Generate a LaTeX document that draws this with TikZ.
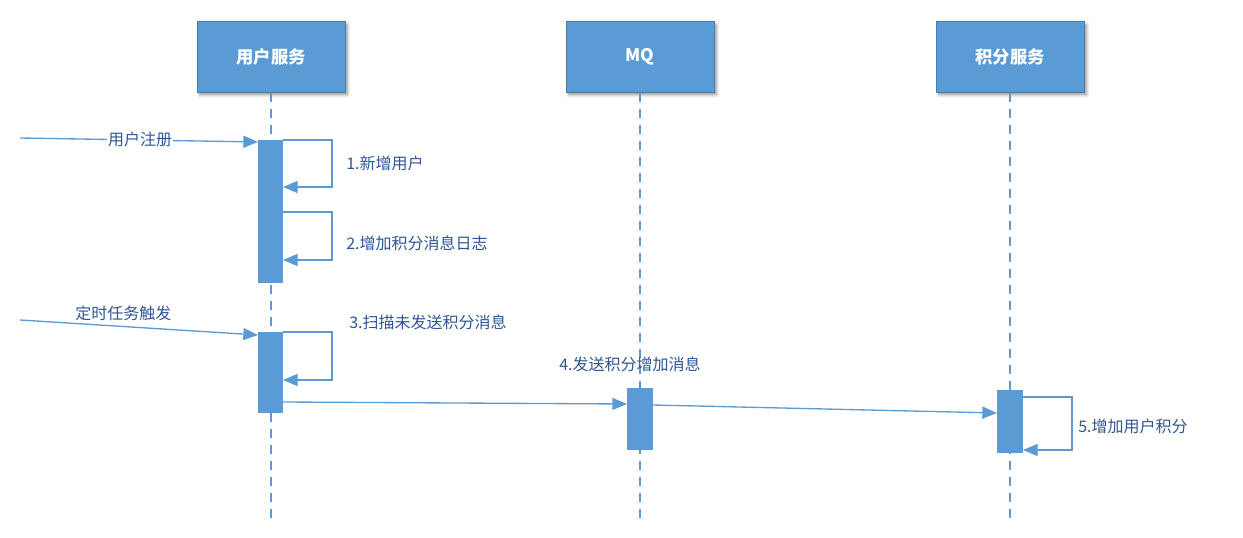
\documentclass[tikz,border=0pt]{standalone}
\usepackage{fontspec}
\setmainfont{Noto Sans CJK SC}
\usetikzlibrary{arrows.meta,shadows.blur}
\definecolor{seqblue}{RGB}{91,155,213}
\definecolor{seqtext}{RGB}{47,85,151}
\tikzset{
  header/.style={draw=seqblue!80!black,fill=seqblue,text=white,font=\bfseries\fontsize{13}{15}\selectfont,minimum width=111pt,minimum height=53pt,inner sep=0pt,blur shadow={shadow xshift=2pt,shadow yshift=-2pt,shadow blur steps=4}},
  lifeline/.style={draw=seqblue,dashed,line width=1pt,dash pattern=on 7pt off 5pt},
  actbar/.style={fill=seqblue,draw=none},
  msg/.style={draw=seqblue,line width=1pt,-{Triangle[length=11pt,width=9pt]}},
  msglabel/.style={text=seqtext,font=\fontsize{12}{14}\selectfont,inner sep=0.75pt}
}
\begin{document}
\begin{tikzpicture}[x=0.75pt,y=0.75pt,yscale=-1,xscale=1]
\useasboundingbox (0,0) rectangle (1243,538);

% headers
\node[header] (user) at (271,57) {用户服务};
\node[header] (mq) at (640,57) {MQ};
\node[header] (point) at (1010,57) {积分服务};

% lifelines
\draw[lifeline] (user.south) -- (271,520);
\draw[lifeline] (mq.south) -- (640,520);
\draw[lifeline] (point.south) -- (1010,520);

% activation bars
\fill[actbar] (258,140) rectangle (283,283);
\fill[actbar] (258,332) rectangle (283,413);
\fill[actbar] (627,388) rectangle (653,450);
\fill[actbar] (997,390) rectangle (1023,453);

% ends of the connectors
\coordinate (regin) at (20,138);
\coordinate (regout) at (258,142);
\coordinate (trigin) at (20,320);
\coordinate (trigout) at (258,335);
\coordinate (sendA) at (283,402);
\coordinate (sendB) at (627,404);
\coordinate (fwdA) at (653,405);
\coordinate (fwdB) at (997,413);

% messages
\draw[msg] (regin) -- (regout);
\node[msglabel,fill=white] (reglabel) at (140,139) {用户注册};
\draw[msg] (trigin) -- (trigout);
\node[msglabel,anchor=south west] (triglabel) at (74,322) {定时任务触发};
\draw[msg] (sendA) -- (sendB);
\node[msglabel,anchor=south west] (sendlabel) at (558,373) {4.发送积分增加消息};
\draw[msg] (fwdA) -- (fwdB);

% self calls
\draw[msg] (283,140) -- (332,140) -- (332,187) -- (283,187);
\node[msglabel,anchor=west] (step1) at (345,163) {1.新增用户};
\draw[msg] (283,212) -- (332,212) -- (332,260) -- (283,260);
\node[msglabel,anchor=west] (step2) at (345,243) {2.增加积分消息日志};
\draw[msg] (283,332) -- (332,332) -- (332,380) -- (283,380);
\node[msglabel,anchor=west] (step3) at (348,322) {3.扫描未发送积分消息};
\draw[msg] (1023,397) -- (1072,397) -- (1072,450) -- (1023,450);
\node[msglabel,anchor=west] (step5) at (1077,426) {5.增加用户积分};

\end{tikzpicture}
\end{document}
